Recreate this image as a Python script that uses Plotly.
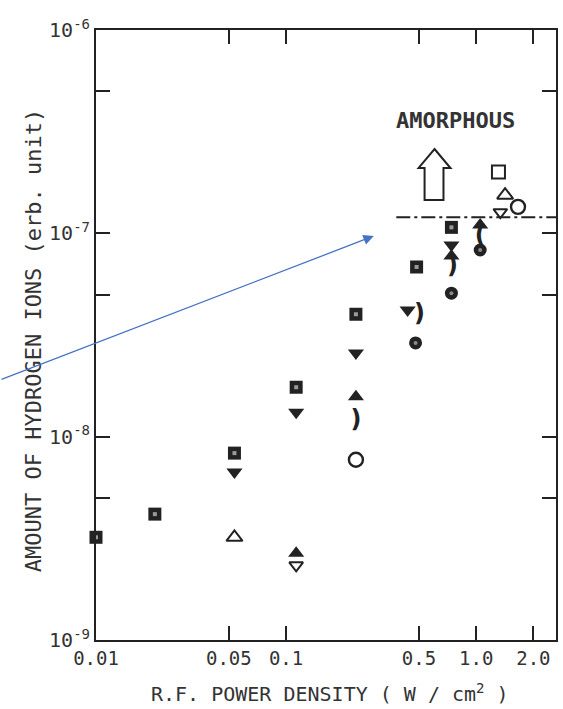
import plotly.graph_objects as go

# ---- data: R.F. power density (W/cm^2) vs amount of hydrogen ions ----
sq_x = [0.01, 0.0204, 0.0535, 0.113, 0.233, 0.486, 0.741]
sq_y = [3.2e-9, 4.16e-9, 8.3e-9, 1.75e-8, 4.0e-8, 6.83e-8, 1.07e-7]

tri_dn_x = [0.0535, 0.113, 0.233, 0.436, 0.741]
tri_dn_y = [6.7e-9, 1.32e-8, 2.58e-8, 4.2e-8, 8.76e-8]

tri_up_x = [0.113, 0.233, 0.741, 1.05]
tri_up_y = [2.67e-9, 1.57e-8, 7.73e-8, 1.10e-7]

moon_x = [0.233, 0.504, 0.75, 1.05]
moon_y = [1.19e-8, 3.96e-8, 6.83e-8, 9.6e-8]
moon_glyph = [")", ")", ")", "("]

dot_x = [0.48, 0.741, 1.05]
dot_y = [2.89e-8, 5.08e-8, 8.28e-8]

open_circ_x = [0.233, 1.66]
open_circ_y = [7.7e-9, 1.35e-7]

open_tri_up_x = [0.0535, 1.42]
open_tri_up_y = [3.2e-9, 1.54e-7]

open_tri_dn_x = [0.113, 1.34]
open_tri_dn_y = [2.33e-9, 1.27e-7]

open_sq_x = [1.31]
open_sq_y = [2.0e-7]

limit_x = [0.38, 2.63]
limit_y = [1.2e-7, 1.2e-7]

x_ticks = [0.01, 0.05, 0.1, 0.5, 1.0, 2.0]
x_ticktext = ["0.01", "0.05", "0.1", "0.5", "1.0", "2.0"]
y_ticks = [1e-9, 1e-8, 1e-7, 1e-6]
y_ticktext = ["10<sup>-9</sup>", "10<sup>-8</sup>",
              "10<sup>-7</sup>", "10<sup>-6</sup>"]
y_minor = [5e-9, 5e-8, 5e-7]

# ---- page geometry ----
W, H = 563, 709
L, R, T, B = 96, 5, 30, 69
PW, PH = W - L - R, H - T - B


def px(xp, yp):
    """pixel position on the page -> paper coordinates"""
    return (xp - L) / PW, (H - B - yp) / PH


INK = "#222222"
TXT = "#333333"
MONO = "DejaVu Sans Mono"

fig = go.Figure()

# filled squares with a light centre
fig.add_trace(go.Scatter(x=sq_x, y=sq_y, mode="markers", cliponaxis=False,
                         marker=dict(symbol="square", size=13, color=INK,
                                     line=dict(width=0))))
fig.add_trace(go.Scatter(x=sq_x, y=sq_y, mode="markers", cliponaxis=False,
                         marker=dict(symbol="square", size=4, color="#9a9a9a",
                                     line=dict(width=0))))

fig.add_trace(go.Scatter(x=tri_dn_x, y=tri_dn_y, mode="markers",
                         marker=dict(symbol="triangle-down", size=14,
                                     color=INK, line=dict(width=0))))
fig.add_trace(go.Scatter(x=tri_up_x, y=tri_up_y, mode="markers",
                         marker=dict(symbol="triangle-up", size=14, color=INK,
                                     line=dict(width=0))))

# filled circles with a light centre
fig.add_trace(go.Scatter(x=dot_x, y=dot_y, mode="markers",
                         marker=dict(symbol="circle", size=13, color=INK,
                                     line=dict(width=0))))
fig.add_trace(go.Scatter(x=dot_x, y=dot_y, mode="markers",
                         marker=dict(symbol="circle", size=4, color="#8a8a8a",
                                     line=dict(width=0))))

# crescent-shaped symbols
fig.add_trace(go.Scatter(x=moon_x, y=moon_y, mode="text", text=moon_glyph,
                         textposition="middle center",
                         textfont=dict(family="DejaVu Sans", size=24,
                                       color=INK, weight="bold")))

# open symbols
fig.add_trace(go.Scatter(x=open_circ_x, y=open_circ_y, mode="markers",
                         marker=dict(symbol="circle-open", size=14, color=INK,
                                     line=dict(width=2.4))))
fig.add_trace(go.Scatter(x=open_tri_up_x, y=open_tri_up_y, mode="markers",
                         marker=dict(symbol="triangle-up-open", size=14,
                                     color=INK, line=dict(width=2))))
fig.add_trace(go.Scatter(x=open_tri_dn_x, y=open_tri_dn_y, mode="markers",
                         marker=dict(symbol="triangle-down-open", size=12,
                                     color=INK, line=dict(width=2))))
fig.add_trace(go.Scatter(x=open_sq_x, y=open_sq_y, mode="markers",
                         marker=dict(symbol="square-open", size=13, color=INK,
                                     line=dict(width=2))))

# amorphous threshold (dash-dot)
fig.add_trace(go.Scatter(x=limit_x, y=limit_y, mode="lines",
                         line=dict(color=INK, width=2,
                                   dash="14px,4px,3px,4px")))

# hollow up arrow under the AMORPHOUS label
arrow_px = [(436, 149), (452, 168), (445, 168), (445, 200),
            (426, 200), (426, 168), (420, 168)]
pts = [px(a, b) for a, b in arrow_px]
path = "M " + " L ".join(f"{a:.4f},{b:.4f}" for a, b in pts) + " Z"
fig.add_shape(type="path", xref="paper", yref="paper", path=path,
              line=dict(color=INK, width=2), fillcolor="white")

ax_title_x, ax_title_y = px(331, 693)
ay_title_x, ay_title_y = px(33, 340)
am_x, am_y = px(457, 120)
head_x, head_y = px(375, 236)

tick_style = dict(ticks="inside", ticklen=14, tickwidth=2, tickcolor=INK,
                  showline=True, linecolor=INK, linewidth=2,
                  mirror="allticks", showgrid=False, zeroline=False)

fig.update_layout(
    width=W, height=H,
    margin=dict(l=L, r=R, t=T, b=B, pad=0),
    paper_bgcolor="white", plot_bgcolor="white",
    showlegend=False,
    font=dict(family=MONO, color=TXT, size=18),
    xaxis=dict(type="log", range=[-2, 0.42],
               tickvals=x_ticks, ticktext=x_ticktext,
               tickfont=dict(family=MONO, size=19, color=TXT),
               **tick_style),
    yaxis=dict(type="log", range=[-9, -6],
               tickvals=y_ticks, ticktext=y_ticktext,
               tickfont=dict(family=MONO, size=20, color=TXT),
               minor=dict(tickvals=y_minor, ticks="inside", ticklen=14,
                          tickwidth=2, tickcolor=INK, showgrid=False),
               **tick_style),
    annotations=[
        dict(text="R.F. POWER DENSITY ( W / cm<sup>2</sup> )",
             xref="paper", yref="paper", x=ax_title_x, y=ax_title_y,
             showarrow=False, xanchor="center", yanchor="middle",
             font=dict(family=MONO, size=20, color=TXT)),
        dict(text="AMOUNT OF HYDROGEN IONS (erb. unit)",
             xref="paper", yref="paper", x=ay_title_x, y=ay_title_y,
             showarrow=False, textangle=-90, xanchor="center",
             yanchor="middle",
             font=dict(family=MONO, size=22, color=TXT)),
        dict(text="<b>AMORPHOUS</b>",
             xref="paper", yref="paper", x=am_x, y=am_y,
             showarrow=False, xanchor="center", yanchor="middle",
             font=dict(family=MONO, size=22, color=TXT)),
        dict(text="", xref="paper", yref="paper", x=head_x, y=head_y,
             showarrow=True, axref="pixel", ayref="pixel", ax=-375, ay=144,
             arrowhead=2, arrowsize=1.6, arrowwidth=1.3,
             arrowcolor="#4472C4"),
    ],
)

fig.write_html("out.html")
